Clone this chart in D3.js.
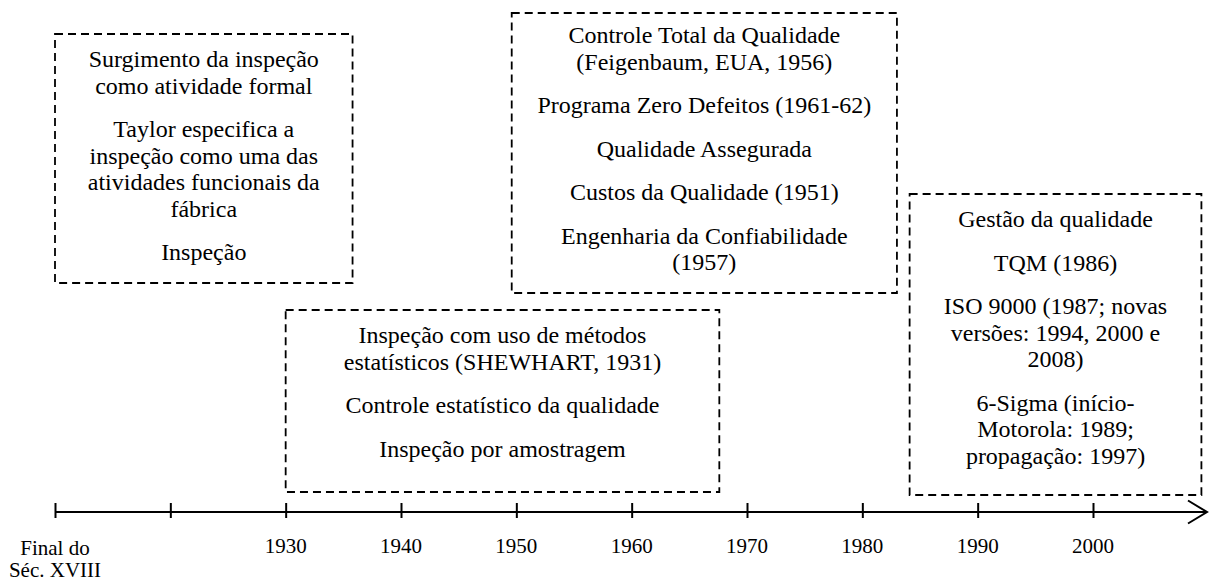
<!DOCTYPE html>
<html>
<head>
<meta charset="utf-8">
<script src="https://cdn.jsdelivr.net/npm/d3@7"></script>
<style>
  html, body { margin: 0; padding: 0; background: #fff; }
  svg { display: block; }
  text { font-family: "Liberation Serif", "Times New Roman", "DejaVu Serif", serif; fill: #000; }
</style>
</head>
<body>
<svg id="chart" width="1211" height="581"></svg>
<script>
// ---- data ----
const tickYears  = [1910, 1920, 1930, 1940, 1950, 1960, 1970, 1980, 1990, 2000];
const tickLabels = [["Final do", "Séc. XVIII"], [""], ["1930"], ["1940"], ["1950"], ["1960"], ["1970"], ["1980"], ["1990"], ["2000"]];

const boxStartYears = [1910, 1930, 1949.6, 1984.1];
const boxEndYears   = [1935.8, 1967.6, 1983.0, 2009.4];

const box1Text = [
  ["Surgimento da inspeção", "como atividade formal"],
  ["Taylor especifica a", "inspeção como uma das", "atividades funcionais da", "fábrica"],
  ["Inspeção"]
];
const box2Text = [
  ["Inspeção com uso de métodos", "estatísticos (SHEWHART, 1931)"],
  ["Controle estatístico da qualidade"],
  ["Inspeção por amostragem"]
];
const box3Text = [
  ["Controle Total da Qualidade", "(Feigenbaum, EUA, 1956)"],
  ["Programa Zero Defeitos (1961-62)"],
  ["Qualidade Assegurada"],
  ["Custos da Qualidade (1951)"],
  ["Engenharia da Confiabilidade", "(1957)"]
];
const box4Text = [
  ["Gestão da qualidade"],
  ["TQM (1986)"],
  ["ISO 9000 (1987; novas", "versões: 1994, 2000 e", "2008)"],
  ["6-Sigma (início-", "Motorola: 1989;", "propagação: 1997)"]
];
const boxTexts = [box1Text, box2Text, box3Text, box4Text];

// ---- layout ----
const boxLayout = [
  { top: 34,  bottom: 283, first: 33 },
  { top: 310, bottom: 492, first: 33 },
  { top: 13,  bottom: 293, first: 30 },
  { top: 194, bottom: 495, first: 33 }
];
const axisY = 512;
const lineStep = 26.5, paraStep = 43.5;

const svg = d3.select("#chart");
const x = d3.scaleLinear().domain([1910, 2000]).range([55, 1093]);

// boxes
boxTexts.forEach((paras, i) => {
  const L = boxLayout[i];
  const x0 = x(boxStartYears[i]), x1 = x(boxEndYears[i]);
  svg.append("rect")
    .attr("x", x0).attr("y", L.top)
    .attr("width", x1 - x0).attr("height", L.bottom - L.top)
    .attr("fill", "none").attr("stroke", "#000")
    .attr("stroke-width", 1.8).attr("stroke-dasharray", "8,5");
  const cx = (x0 + x1) / 2;
  let y = L.top + L.first;
  paras.forEach((lines, pi) => {
    if (pi > 0) y += paraStep - lineStep;
    lines.forEach((ln) => {
      svg.append("text")
        .attr("x", cx).attr("y", y)
        .attr("text-anchor", "middle")
        .attr("font-size", 24)
        .text(ln);
      y += lineStep;
    });
  });
});

// axis line with arrow
const g = svg.append("g");
g.append("line")
  .attr("x1", x(1910)).attr("x2", 1206)
  .attr("y1", axisY).attr("y2", axisY)
  .attr("stroke", "#000").attr("stroke-width", 2);
g.append("path")
  .attr("d", `M1188,${axisY - 11.5} L1207,${axisY} L1188,${axisY + 11.5}`)
  .attr("fill", "none").attr("stroke", "#000").attr("stroke-width", 2);

const axis = d3.axisBottom(x).tickValues(tickYears).tickSize(15).tickFormat("");
const ag = svg.append("g").attr("transform", `translate(0,${axisY - 9})`).call(axis);
ag.select(".domain").remove();
ag.selectAll(".tick line").attr("stroke", "#000").attr("stroke-width", 2);

// tick labels
tickYears.forEach((yr, i) => {
  const lines = tickLabels[i];
  const multi = lines.length > 1;
  lines.forEach((t, li) => {
    svg.append("text")
      .attr("x", x(yr))
      .attr("y", (multi ? 555 : 553) + li * 22)
      .attr("text-anchor", "middle")
      .attr("font-size", 21)
      .text(t);
  });
});
</script>
</body>
</html>
